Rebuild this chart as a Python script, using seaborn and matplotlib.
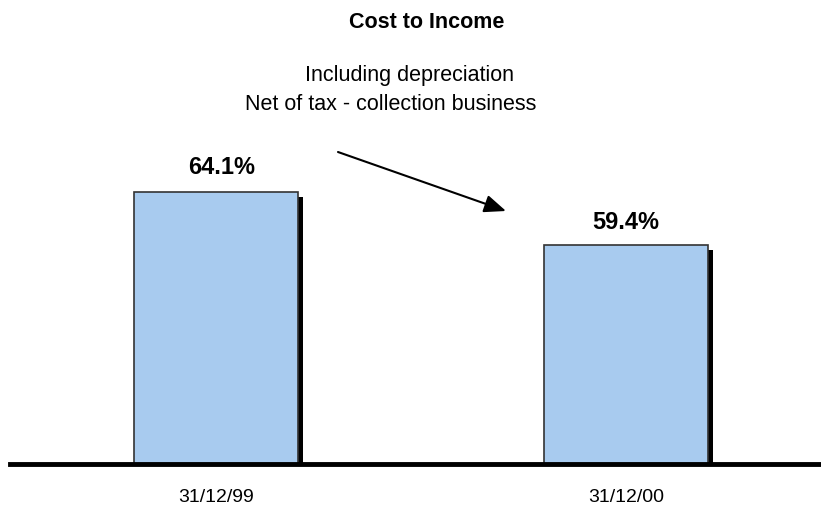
import matplotlib
matplotlib.use("Agg")
import matplotlib.pyplot as plt
import matplotlib.patches as mpatches
import matplotlib.transforms as mtransforms
import seaborn as sns
import pandas as pd

categories = ["31/12/99", "31/12/00"]
values = [64.1, 59.4]
labels = ["64.1%", "59.4%"]

sns.set_theme(style="white")
plt.rcParams['font.family'] = ['Liberation Sans', 'DejaVu Sans']

W, H = 821, 506
fig = plt.figure(figsize=(W / 100, H / 100), dpi=100)
base_y = 465
top_y = 127
ax = fig.add_axes([10 / W, (H - base_y) / H, (W - 10) / W, (base_y - top_y) / H])

df = pd.DataFrame({"date": categories, "value": values})
sns.barplot(data=df, x="date", y="value", ax=ax, color="#A8CBEF",
            saturation=1, width=0.4, edgecolor="#333333", linewidth=1.2, zorder=3)

shift = mtransforms.ScaledTranslation(5 / 100, -5 / 100, fig.dpi_scale_trans)
for p in list(ax.patches):
    sh = mpatches.Rectangle(p.get_xy(), p.get_width(), p.get_height(),
                            facecolor="black", edgecolor="none",
                            transform=ax.transData + shift, zorder=2)
    ax.add_patch(sh)

ax.set_ylim(40, 70)
ax.set_xlim(-0.502, 1.476)
for s in ["top", "right", "left"]:
    ax.spines[s].set_visible(False)
ax.spines["bottom"].set_linewidth(3.5)
ax.spines["bottom"].set_color("black")
ax.spines["bottom"].set_zorder(5)
ax.set_yticks([])
ax.set_xlabel("")
ax.set_ylabel("")
ax.tick_params(axis="x", length=0, pad=17, labelsize=14, colors="black")

label_dx = [4.5, 0]
label_dy = [19, 17]
for i, (v, lab) in enumerate(zip(values, labels)):
    ax.annotate(lab, xy=(i, v), xytext=(label_dx[i], label_dy[i]), textcoords="offset points",
                ha="center", va="center", fontsize=17, fontweight="bold", color="black")

fig.text(427 / W, 1 - 22 / H, "Cost to Income", ha="center", va="center",
         fontsize=15.5, fontweight="bold", color="black")
fig.text(409 / W, 1 - 75 / H, "Including depreciation", ha="center", va="center",
         fontsize=15.5, color="black")
fig.text(391 / W, 1 - 104 / H, "Net of tax - collection business", ha="center", va="center",
         fontsize=15.5, color="black")

ax.annotate("", xy=(506 / W, 1 - 212 / H), xytext=(338 / W, 1 - 153 / H),
            xycoords="figure fraction", textcoords="figure fraction",
            arrowprops=dict(arrowstyle="-|>,head_length=1.1,head_width=0.45",
                            color="black", lw=1.5, shrinkA=0, shrinkB=0))

fig.savefig("out.png", dpi=100)
